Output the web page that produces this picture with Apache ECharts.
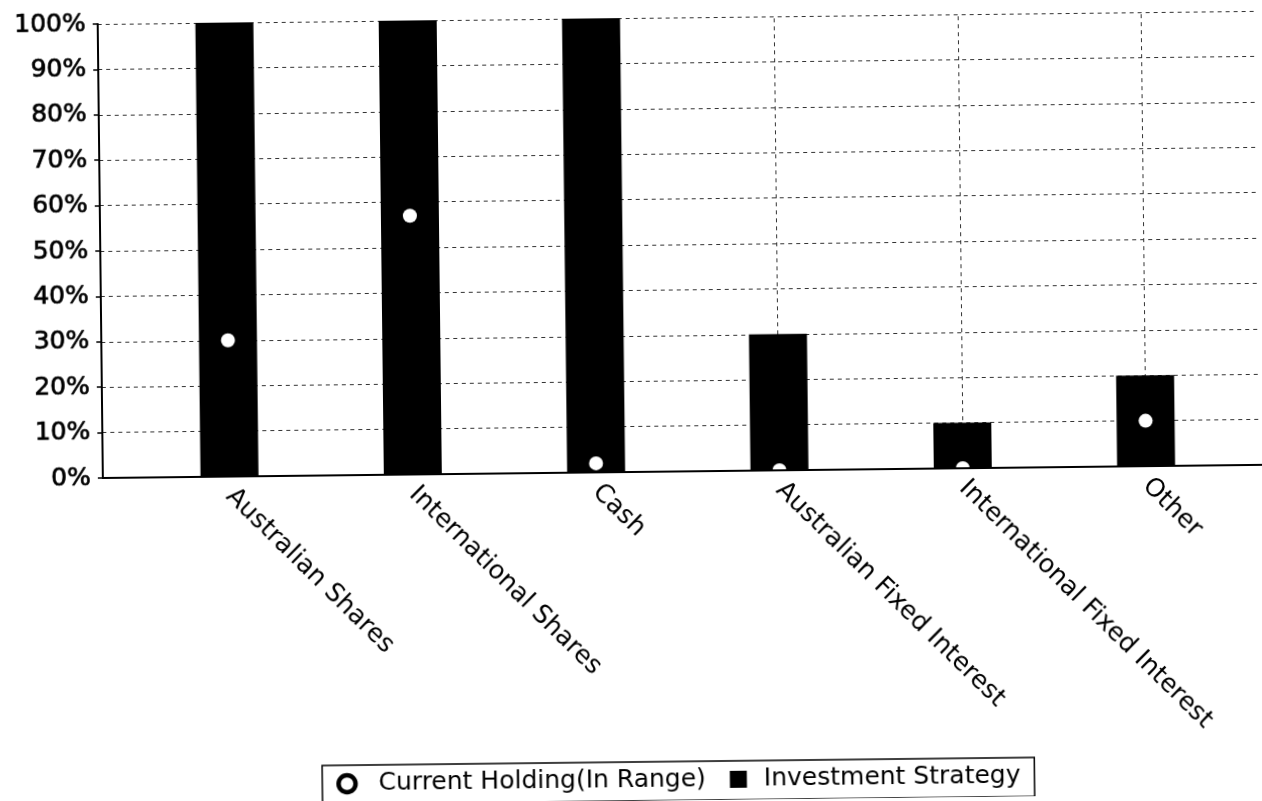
<!DOCTYPE html>
<html>
<head>
<meta charset="utf-8">
<script src="https://cdn.jsdelivr.net/npm/echarts@6/dist/echarts.min.js"></script>
<style>
html,body{margin:0;padding:0;background:#fff;overflow:hidden;}
#wrap{width:1262px;height:801px;transform:rotate(-0.65deg);transform-origin:631px 400px;}
#chart{width:1262px;height:801px;}
</style>
</head>
<body>
<div id="wrap"><div id="chart"></div></div>
<script>
const categories = ['Australian Shares', 'International Shares', 'Cash', 'Australian Fixed Interest', 'International Fixed Interest', 'Other'];
const investmentStrategy = [100, 100, 100, 30, 10, 20];
const currentHolding = [30, 57, 2, 0, 0, 10];
const yTicks = { min: 0, max: 100, interval: 10 };

const FONT = 'DejaVu Sans';
const gridTop = 18, gridBottom = 329;
const dash = { type: [4, 4], color: '#333', width: 1 };

const chart = echarts.init(document.getElementById('chart'), null, { renderer: 'canvas' });
chart.setOption({
  backgroundColor: '#fff',
  animation: false,
  grid: [
    { left: 102, right: -6, top: gridTop, bottom: gridBottom },
    { left: 137, right: 25, top: gridTop, bottom: gridBottom }
  ],
  xAxis: [
    { gridIndex: 0, type: 'value', min: 0, max: 1, z: 10,
      axisLine: { show: true, onZero: false, lineStyle: { color: '#000', width: 2 } },
      axisTick: { show: false }, axisLabel: { show: false }, splitLine: { show: false } },
    { gridIndex: 1, type: 'category', data: categories, boundaryGap: true,
      axisLine: { show: false }, axisTick: { show: false }, splitLine: { show: false },
      axisLabel: { rotate: -45, margin: 16, fontFamily: FONT, fontSize: 25.5, color: '#000' } }
  ],
  yAxis: [
    { gridIndex: 0, type: 'value', min: yTicks.min, max: yTicks.max, interval: yTicks.interval,
      axisLine: { show: true, lineStyle: { color: '#000', width: 2 } },
      axisTick: { show: true, length: 5, lineStyle: { color: '#000', width: 1.5 } },
      axisLabel: { formatter: '{value}%', margin: 12, fontFamily: FONT, fontSize: 25, color: '#000',
        textBorderColor: '#000', textBorderWidth: 0.7 },
      splitLine: { show: true, lineStyle: dash } },
    { gridIndex: 1, type: 'value', min: yTicks.min, max: yTicks.max, interval: yTicks.interval, show: false }
  ],
  legend: {
    left: 318, top: 762,
    orient: 'horizontal',
    itemWidth: 17, itemHeight: 17, itemGap: 24,
    padding: [6, 14, 8, 14],
    borderColor: '#000', borderWidth: 1.5, borderRadius: 0,
    textStyle: { fontFamily: FONT, fontSize: 25, color: '#000' },
    data: [
      { name: 'Current Holding(In Range)', icon: 'circle',
        itemStyle: { color: '#fff', borderColor: '#000', borderWidth: 4.5 },
        textStyle: { padding: [0, 0, 0, 18] } },
      { name: 'Investment Strategy', icon: 'path://M0,0H10V10H0Z',
        itemStyle: { color: '#000', borderWidth: 0 },
        textStyle: { padding: [0, 0, 0, 12] } }
    ]
  },
  series: [
    { name: 'grid-verticals', type: 'line', xAxisIndex: 1, yAxisIndex: 1, data: [], silent: true,
      markLine: { z: 1, silent: true, symbol: ['none', 'none'], label: { show: false },
        lineStyle: dash, emphasis: { disabled: true },
        data: categories.map(c => ({ xAxis: c })) } },
    { name: 'Investment Strategy', type: 'bar', xAxisIndex: 1, yAxisIndex: 1, z: 2,
      data: investmentStrategy, barWidth: 58, itemStyle: { color: '#000' } },
    { name: 'Current Holding(In Range)', type: 'scatter', xAxisIndex: 1, yAxisIndex: 1, z: 3,
      data: currentHolding, symbol: 'circle', symbolSize: 14,
      itemStyle: { color: '#fff', borderColor: '#fff', borderWidth: 0, opacity: 1 } }
  ]
});
</script>
</body>
</html>
